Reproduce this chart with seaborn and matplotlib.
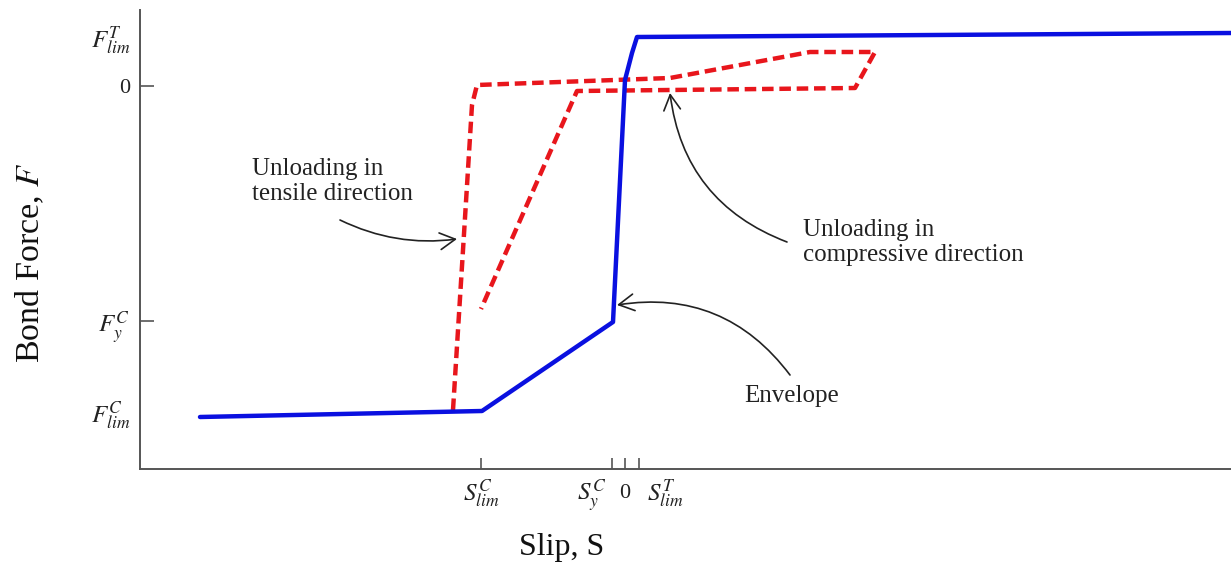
import matplotlib
matplotlib.use("Agg")
import matplotlib.pyplot as plt
import matplotlib.transforms as mtransforms
import pandas as pd
import seaborn as sns

# ---- data (S in slip units, F in force units) ----
env_s = [-4.25, -1.43, -0.12, 0.00, 0.07, 0.12, 6.06]
env_f = [-3.31, -3.25, -2.36, 0.06, 0.33, 0.49, 0.53]

unl_s = [-1.72, -1.62, -1.53, -1.48, 0.45, 1.85, 2.50, 2.30, -0.48, -1.44]
unl_f = [-3.24, -1.64, -0.19, 0.01, 0.08, 0.34, 0.34, -0.02, -0.05, -2.23]

x_ticks = [-1.44, -0.13, 0.0, 0.14]
x_labels = [r'$S_{lim}^{C}$', r'$S_{y}^{C}$', '0', r'$S_{lim}^{T}$']
y_ticks = [0.50, 0.0, -2.35, -3.25]
y_labels = [r'$F_{lim}^{T}$', '0', r'$F_{y}^{C}$', r'$F_{lim}^{C}$']

sns.set_theme(style="white")
plt.rcParams['font.family'] = ['Liberation Serif', 'DejaVu Serif']
plt.rcParams['mathtext.fontset'] = 'stix'

fig = plt.figure(figsize=(12.31, 5.71), dpi=100)
ax = fig.add_axes([140/1231, 102/571, 1091/1231, 459/571])

env = pd.DataFrame({'S': env_s, 'F': env_f})
unl = pd.DataFrame({'S': unl_s, 'F': unl_f})

sns.lineplot(data=unl, x='S', y='F', sort=False, estimator=None, ax=ax,
             color='#e8161c', lw=3.2, dashes=False)
ax.lines[-1].set_dashes([2.6, 1.3])
sns.lineplot(data=env, x='S', y='F', sort=False, estimator=None, ax=ax,
             color='#0a10e0', lw=3.2)

ax.set_xlim(-4.85, 6.06)
ax.set_ylim(-3.83, 0.76)

ax.set_xticks(x_ticks)
ax.set_xticklabels(x_labels)
ax.set_yticks(y_ticks)
ax.set_yticklabels(y_labels)

for s in ['top', 'right']:
    ax.spines[s].set_visible(False)
for s in ['left', 'bottom']:
    ax.spines[s].set_color('#555555')
    ax.spines[s].set_linewidth(1.4)

ax.tick_params(axis='both', direction='in', colors='#555555', labelcolor='#222222',
               labelsize=18, width=1.2, bottom=True, left=True)
ax.tick_params(axis='y', length=10, pad=7)
ax.tick_params(axis='x', length=8, pad=6)
yt = ax.yaxis.get_major_ticks()
yt[0].tick1line.set_visible(False)
yt[3].tick1line.set_visible(False)

for lab in ax.get_yticklabels():
    if lab.get_text() == '0':
        lab.set_fontsize(16)

xl = ax.get_xticklabels()
xl[2].set_fontsize(16)
xl[2].set_transform(xl[2].get_transform() +
                    mtransforms.ScaledTranslation(0, -7/100, fig.dpi_scale_trans))
xl[1].set_ha('right')
xl[1].set_transform(xl[1].get_transform() +
                    mtransforms.ScaledTranslation(-6/100, 0, fig.dpi_scale_trans))
xl[3].set_ha('left')
xl[3].set_transform(xl[3].get_transform() +
                    mtransforms.ScaledTranslation(8/100, 0, fig.dpi_scale_trans))

ax.set_xlabel('Slip, S', fontsize=23, color='#111111')
ax.xaxis.label.set_va('center')
ax.xaxis.set_label_coords((562-140)/1091, (469-548)/459)
ax.set_ylabel('Bond Force, $\\mathit{F}$', fontsize=24.5, color='#111111')
ax.yaxis.label.set_va('center')
ax.yaxis.set_label_coords((30-140)/1091, (469-263)/459)

arrow_kw = dict(arrowstyle='->,head_length=0.55,head_width=0.3', color='#222222',
                lw=1.2, shrinkA=0, shrinkB=0, mutation_scale=20)

ax.annotate('', xy=(-1.68, -1.53), xytext=(-2.85, -1.34),
            arrowprops=dict(connectionstyle='arc3,rad=0.15', **arrow_kw))
ax.annotate('', xy=(-0.08, -2.19), xytext=(1.65, -2.89),
            arrowprops=dict(connectionstyle='arc3,rad=0.3', **arrow_kw))
ax.annotate('', xy=(0.45, -0.07), xytext=(1.62, -1.56),
            arrowprops=dict(connectionstyle='arc3,rad=-0.3', **arrow_kw))

tkw = dict(fontsize=18, color='#222222', va='top', ha='left', linespacing=1.2)
ax.text(-3.73, -0.72, 'Unloading in\ntensile direction', **tkw)
ax.text(1.78, -1.33, 'Unloading in\ncompressive direction', **tkw)
ax.text(1.19, -2.99, 'Envelope', **tkw)

fig.savefig('out.png', dpi=100)
